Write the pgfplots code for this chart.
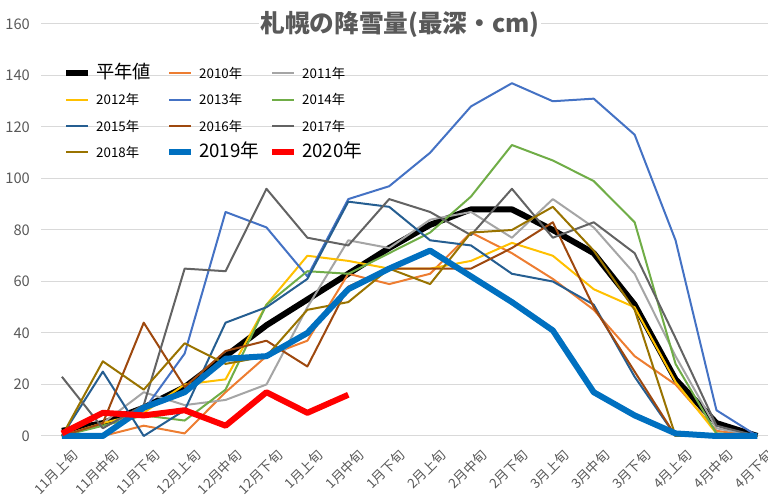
\documentclass[border=0pt]{standalone}
\usepackage{fontspec}
\setmainfont{Noto Sans CJK JP}
\usepackage{pgfplots}
\pgfplotsset{compat=1.18}
\definecolor{c2010}{HTML}{ED7D31}
\definecolor{c2011}{HTML}{A5A5A5}
\definecolor{c2012}{HTML}{FFC000}
\definecolor{c2013}{HTML}{4472C4}
\definecolor{c2014}{HTML}{70AD47}
\definecolor{c2015}{HTML}{255E91}
\definecolor{c2016}{HTML}{9E480E}
\definecolor{c2017}{HTML}{636363}
\definecolor{c2018}{HTML}{997300}
\definecolor{c2019}{HTML}{0070C0}
\definecolor{c2020}{HTML}{FF0000}
\definecolor{txt}{HTML}{595959}
\definecolor{gridc}{HTML}{D9D9D9}
\newcommand{\lt}[2]{\makebox[56.25pt][l]{\hspace{3.75pt}\fontsize{#1}{#1}\selectfont #2}}
\begin{document}
\begin{tikzpicture}
\begin{axis}[
  name=ax,
  scale only axis,
  width=544.9pt, height=309pt,
  xmin=-0.5, xmax=17.26,
  ymin=0, ymax=160,
  ytick={0,20,...,160},
  xtick={0,...,17},
  xticklabels={11月上旬,11月中旬,11月下旬,12月上旬,12月中旬,12月下旬,1月上旬,1月中旬,1月下旬,2月上旬,2月中旬,2月下旬,3月上旬,3月中旬,3月下旬,4月上旬,4月中旬,4月下旬},
  ymajorgrids,
  major grid style={color=gridc, line width=0.75pt},
  axis line style={draw=none},
  tick style={draw=none},
  clip=false,
  /pgf/number format/assume math mode=true,
  yticklabel style={font=\fontsize{11}{11}\selectfont, text=txt, inner sep=0pt, xshift=-8.5pt},
  xticklabel style={font=\fontsize{10}{10}\selectfont, text=txt, rotate=45, anchor=east, inner sep=1pt, xshift=-0.5pt, yshift=-16pt},
  title={札幌の降雪量(最深・cm)},
  title style={at={(0.4935,0.9806)}, anchor=center, fill=white, inner sep=1pt, font=\fontsize{18.5}{18.5}\selectfont\bfseries, text=txt},
  every axis plot/.append style={line width=1.5pt, line join=round, no markers},
  legend columns=3,
  legend style={at={(0.0296,0.9126)}, anchor=north west, draw=none, fill=none, inner sep=0pt, row sep=0pt, column sep=0pt, nodes={inner sep=0pt, text height=13.7pt, text depth=6pt}, cells={anchor=west}},
  legend image code/.code={\draw[#1] (0pt,0pt) -- (16.5pt,0pt);},
]
\addplot[black, line width=4.5pt] coordinates {(0,2)(1,5)(2,11)(3,19)(4,31)(5,43)(6,53)(7,63)(8,73)(9,82)(10,88)(11,88)(12,80)(13,71)(14,51)(15,22)(16,5)(17,0)};
\addlegendentry{\lt{13.7}{平年値}}
\addplot[c2010] coordinates {(0,0)(1,0)(2,4)(3,1)(4,17)(5,31)(6,37)(7,63)(8,59)(9,63)(10,79)(11,71)(12,61)(13,49)(14,31)(15,20)(16,2)(17,0)};
\addlegendentry{\lt{10}{2010年}}
\addplot[c2011] coordinates {(0,0)(1,5)(2,17)(3,12)(4,14)(5,20)(6,50)(7,76)(8,73)(9,84)(10,87)(11,77)(12,92)(13,81)(14,63)(15,31)(16,3)(17,0)};
\addlegendentry{\lt{10}{2011年}}
\addplot[c2012] coordinates {(0,0)(1,5)(2,9)(3,20)(4,22)(5,51)(6,70)(7,68)(8,65)(9,65)(10,68)(11,75)(12,70)(13,57)(14,50)(15,21)(16,1)(17,0)};
\addlegendentry{\lt{10}{2012年}}
\addplot[c2013] coordinates {(0,0)(1,0)(2,10)(3,32)(4,87)(5,81)(6,62)(7,92)(8,97)(9,110)(10,128)(11,137)(12,130)(13,131)(14,117)(15,76)(16,10)(17,0)};
\addlegendentry{\lt{10}{2013年}}
\addplot[c2014] coordinates {(0,0)(1,4)(2,8)(3,6)(4,18)(5,51)(6,64)(7,63)(8,71)(9,79)(10,93)(11,113)(12,107)(13,99)(14,83)(15,28)(16,1)(17,0)};
\addlegendentry{\lt{10}{2014年}}
\addplot[c2015] coordinates {(0,0)(1,25)(2,0)(3,10)(4,44)(5,50)(6,61)(7,91)(8,89)(9,76)(10,74)(11,63)(12,60)(13,51)(14,23)(15,0)(16,0)(17,0)};
\addlegendentry{\lt{10}{2015年}}
\addplot[c2016] coordinates {(0,0)(1,5)(2,44)(3,19)(4,33)(5,37)(6,27)(7,58)(8,65)(9,65)(10,65)(11,73)(12,83)(13,50)(14,25)(15,0)(16,0)(17,0)};
\addlegendentry{\lt{10}{2016年}}
\addplot[c2017] coordinates {(0,23)(1,3)(2,12)(3,65)(4,64)(5,96)(6,77)(7,74)(8,92)(9,87)(10,78)(11,96)(12,77)(13,83)(14,71)(15,38)(16,4)(17,0)};
\addlegendentry{\lt{10}{2017年}}
\addplot[c2018] coordinates {(0,0)(1,29)(2,18)(3,36)(4,28)(5,31)(6,49)(7,52)(8,65)(9,59)(10,79)(11,80)(12,89)(13,72)(14,49)(15,0)(16,0)(17,0)};
\addlegendentry{\lt{10}{2018年}}
\addplot[c2019, line width=4.5pt] coordinates {(0,0)(1,0)(2,11)(3,17)(4,30)(5,31)(6,40)(7,57)(8,65)(9,72)(10,62)(11,52)(12,41)(13,17)(14,8)(15,1)(16,0)(17,0)};
\addlegendentry{\lt{14}{2019年}}
\addplot[c2020, line width=4.5pt] coordinates {(0,1)(1,9)(2,8)(3,10)(4,4)(5,17)(6,9)(7,16)};
\addlegendentry{\lt{14}{2020年}}
\end{axis}
\pgfresetboundingbox
\path[use as bounding box] ([xshift=-31.1pt,yshift=-47.25pt]ax.south west) rectangle ([yshift=18pt]ax.north east);
\end{tikzpicture}
\end{document}
